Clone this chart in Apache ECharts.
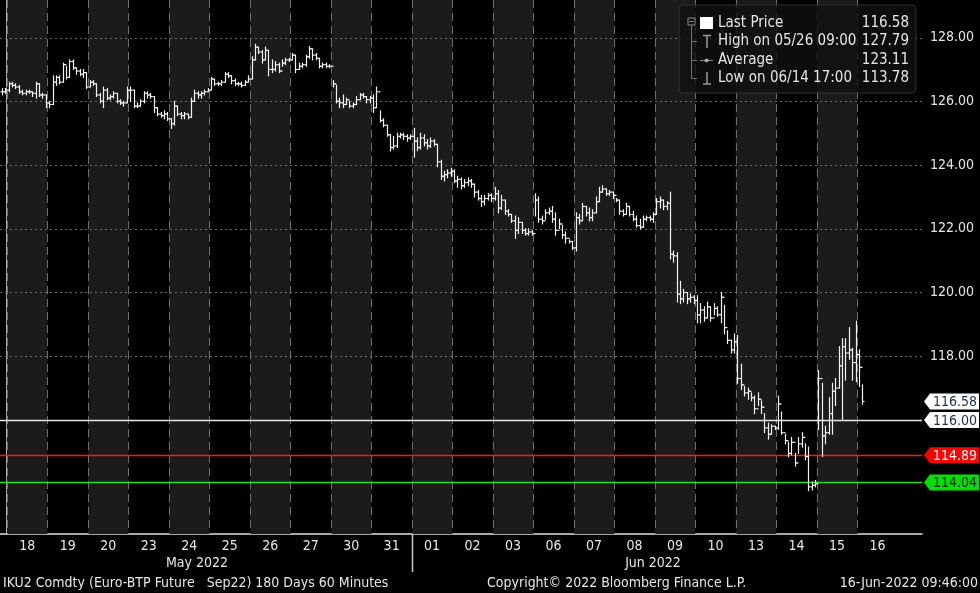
<!DOCTYPE html>
<html>
<head>
<meta charset="utf-8">
<script src="https://cdn.jsdelivr.net/npm/echarts@6/dist/echarts.min.js"></script>
<style>
  html, body { margin: 0; padding: 0; background: #000; }
  #chart { width: 980px; height: 593px; }
</style>
</head>
<body>
<div id="chart"></div>
<script>
// trading days shown on the axis (May 18 .. Jun 16)
const dayLabels = ["18", "19", "20", "23", "24", "25", "26", "27", "30", "31",
  "01", "02", "03", "06", "07", "08", "09", "10", "13", "14", "15", "16"];

// hourly bars: 2 bars of May 17, 12 bars per day, 2 bars of Jun 16
const closes = [
  126.3, 126.35,
  126.55, 126.5, 126.45, 126.3, 126.25, 126.3, 126.3, 126.25, 126.55, 126.2, 126.2, 125.95,
  125.9, 126.6, 126.75, 126.6, 127.15, 126.75, 127.25, 127.05, 126.95, 126.85, 126.9, 126.45,
  126.6, 126.55, 126.2, 126.0, 126.35, 126.1, 126.15, 126.25, 126.0, 125.95, 125.95, 126.35,
  126.35, 125.85, 125.85, 126.0, 126.25, 126.2, 126.15, 125.8, 125.6, 125.55, 125.6, 125.45,
  125.3, 125.85, 125.6, 125.55, 125.6, 125.5, 126.0, 126.25, 126.2, 126.25, 126.3, 126.35,
  126.7, 126.55, 126.55, 126.6, 126.85, 126.8, 126.65, 126.55, 126.55, 126.5, 126.6, 126.7,
  127.3, 127.7, 127.55, 127.3, 127.6, 127.0, 127.0, 127.15, 126.95, 127.2, 127.3, 127.3,
  127.45, 127.0, 127.1, 127.15, 127.4, 127.65, 127.45, 127.35, 127.1, 127.15, 127.1, 127.1,
  126.55, 126.0, 125.95, 125.9, 126.05, 125.85, 125.9, 126.05, 126.2, 126.15, 126.05, 126.1,
  125.8, 126.3, 125.4, 125.25, 124.95, 124.55, 124.6, 124.9, 124.95, 124.9, 124.85, 124.9,
  124.75, 124.55, 124.85, 124.7, 124.6, 124.75, 124.65, 124.1, 123.65, 123.7, 123.75, 123.8,
  123.5, 123.55, 123.35, 123.45, 123.5, 123.4, 123.15, 122.95, 122.85, 122.95, 123.05, 122.95,
  123.1, 122.65, 122.9, 122.55, 122.45, 122.25, 121.95, 122.2, 121.95, 121.85, 121.9, 121.85,
  122.9, 122.3, 122.25, 122.5, 122.55, 122.3, 121.95, 122.15, 121.8, 121.7, 121.6, 121.4,
  122.35, 122.25, 122.7, 122.5, 122.35, 122.5, 122.85, 123.15, 123.25, 123.1, 123.15, 123.05,
  122.9, 122.55, 122.45, 122.7, 122.45, 122.3, 122.1, 122.05, 122.3, 122.35, 122.3, 122.45,
  122.85, 122.9, 122.7, 122.8, 121.2, 121.15, 119.95, 119.8, 120.0, 119.8, 119.85, 119.75,
  119.3, 119.45, 119.2, 119.55, 119.2, 119.5, 119.3, 119.85, 118.9, 118.5, 118.2, 118.45,
  117.3, 117.1, 116.85, 116.9, 116.7, 116.35, 116.65, 116.4, 115.75, 115.55, 115.8, 115.75,
  116.5, 115.6, 115.35, 114.95, 115.3, 114.65, 115.25, 115.45, 114.85, 113.9, 113.95, 114.0,
  117.3, 115.5, 115.6, 116.2, 116.9, 117.0, 117.7, 118.3, 118.1, 118.2, 117.8, 118.05,
  117.65, 116.58
];
const highs = [
  126.4, 126.4,
  126.6, 126.6, 126.55, 126.5, 126.35, 126.35, 126.35, 126.3, 126.6, 126.55, 126.25, 126.2,
  126.0, 126.8, 126.8, 126.8, 127.2, 127.1, 127.3, 127.3, 127.05, 127.0, 127.0, 126.9,
  126.65, 126.65, 126.55, 126.25, 126.45, 126.4, 126.2, 126.3, 126.25, 126.05, 126.0, 126.45,
  126.45, 126.35, 125.95, 126.05, 126.3, 126.3, 126.25, 126.15, 125.8, 125.65, 125.7, 125.65,
  125.45, 126.0, 125.85, 125.65, 125.65, 125.6, 126.1, 126.35, 126.3, 126.3, 126.35, 126.4,
  126.75, 126.7, 126.6, 126.65, 126.9, 126.9, 126.8, 126.7, 126.6, 126.6, 126.65, 126.8,
  127.4, 127.79, 127.7, 127.6, 127.7, 127.6, 127.3, 127.25, 127.2, 127.3, 127.35, 127.35,
  127.5, 127.45, 127.2, 127.2, 127.45, 127.72, 127.65, 127.5, 127.35, 127.2, 127.2, 127.15,
  126.65, 126.5, 126.1, 126.2, 126.1, 126.0, 125.95, 126.15, 126.25, 126.25, 126.15, 126.15,
  126.2, 126.45, 125.7, 125.45, 125.25, 124.95, 124.9, 125.0, 125.0, 125.0, 124.95, 124.95,
  125.15, 124.85, 125.0, 124.95, 124.8, 124.85, 124.8, 124.65, 124.15, 123.8, 123.85, 123.9,
  123.85, 123.65, 123.6, 123.55, 123.6, 123.55, 123.4, 123.2, 123.05, 123.05, 123.1, 123.1,
  123.3, 123.2, 123.05, 122.9, 122.6, 122.45, 122.4, 122.35, 122.2, 122.0, 122.0, 121.95,
  123.1, 123.0, 122.4, 122.6, 122.65, 122.7, 122.5, 122.3, 122.1, 121.9, 121.65, 121.6,
  122.5, 122.45, 122.8, 122.7, 122.65, 122.6, 123.0, 123.3, 123.35, 123.25, 123.2, 123.15,
  122.95, 122.9, 122.6, 122.8, 122.7, 122.55, 122.4, 122.3, 122.4, 122.4, 122.4, 122.5,
  122.95, 123.0, 122.9, 122.85, 123.15, 121.3, 121.25, 120.35, 120.1, 120.0, 119.95, 119.9,
  119.9, 119.65, 119.55, 119.7, 119.55, 119.65, 119.55, 120.0, 119.6, 118.8, 118.5, 118.7,
  118.65, 117.75, 117.05, 117.0, 116.85, 116.75, 116.85, 116.6, 116.2, 115.9, 115.85, 115.8,
  116.75, 116.25, 115.55, 115.3, 115.45, 114.95, 115.45, 115.6, 115.25, 115.15, 114.05, 114.1,
  117.55, 117.15, 115.8, 116.7, 117.15, 117.3, 118.3, 118.55, 118.55, 118.9, 118.25, 119.1,
  118.2, 117.1
];
const lows = [
  126.2, 126.25,
  126.3, 126.45, 126.4, 126.25, 126.2, 126.2, 126.25, 126.15, 126.1, 126.15, 126.1, 125.8,
  125.8, 125.9, 126.5, 126.55, 126.6, 126.7, 126.75, 127.0, 126.85, 126.8, 126.75, 126.4,
  126.45, 126.5, 126.15, 125.95, 125.8, 126.05, 126.05, 126.1, 125.95, 125.9, 125.85, 125.95,
  126.0, 125.8, 125.8, 125.85, 125.95, 126.1, 126.1, 125.65, 125.55, 125.5, 125.45, 125.4,
  125.15, 125.25, 125.55, 125.45, 125.45, 125.45, 125.5, 126.0, 126.1, 126.1, 126.2, 126.3,
  126.35, 126.5, 126.5, 126.5, 126.6, 126.75, 126.55, 126.5, 126.5, 126.45, 126.5, 126.6,
  126.7, 127.3, 127.5, 127.2, 127.3, 126.8, 126.9, 126.95, 126.9, 127.1, 127.15, 127.25,
  127.3, 126.9, 127.0, 127.05, 127.1, 127.35, 127.3, 127.3, 127.05, 127.05, 127.05, 127.05,
  126.45, 125.95, 125.8, 125.8, 125.9, 125.8, 125.8, 125.9, 126.05, 126.1, 125.95, 125.95,
  125.65, 125.8, 125.35, 125.2, 124.9, 124.45, 124.5, 124.55, 124.85, 124.8, 124.75, 124.8,
  124.25, 124.45, 124.5, 124.6, 124.5, 124.55, 124.6, 123.95, 123.55, 123.5, 123.6, 123.65,
  123.45, 123.3, 123.25, 123.3, 123.35, 123.3, 123.0, 122.9, 122.7, 122.75, 122.9, 122.85,
  122.9, 122.5, 122.6, 122.45, 122.4, 122.2, 121.7, 121.85, 121.85, 121.8, 121.8, 121.8,
  122.4, 122.2, 122.15, 122.3, 122.45, 122.2, 121.8, 122.0, 121.7, 121.55, 121.55, 121.35,
  121.3, 122.15, 122.25, 122.4, 122.25, 122.25, 122.5, 122.85, 123.15, 123.05, 123.05, 122.95,
  122.85, 122.45, 122.4, 122.45, 122.4, 122.25, 122.05, 122.0, 122.05, 122.25, 122.25, 122.2,
  122.45, 122.65, 122.6, 122.6, 121.05, 120.95, 119.7, 119.65, 119.7, 119.65, 119.7, 119.65,
  119.05, 119.05, 119.1, 119.2, 119.1, 119.3, 119.25, 119.05, 118.7, 118.4, 118.1, 118.1,
  117.15, 116.95, 116.75, 116.65, 116.6, 116.2, 116.45, 116.2, 115.6, 115.4, 115.55, 115.7,
  115.7, 115.55, 115.25, 114.85, 114.9, 114.55, 114.95, 115.15, 114.75, 113.78, 113.8, 113.9,
  115.7, 114.85, 115.25, 115.55, 115.55, 116.45, 117.0, 116.0, 117.25, 117.9, 117.25, 117.2,
  117.05, 116.5
];

const levelValues = [116.00, 114.89, 114.04];
const levelColors = ["#e8e8e8", "#ff1a1a", "#1fe01f"];
const tagValues = [116.58, 116.00, 114.89, 114.04];
const tagFills = ["#ffffff", "#ffffff", "#ff0000", "#00e000"];
const tagTextColors = ["#1c2d50", "#1c2d50", "#ffffff", "#0a1a0a"];
const yLabelValues = [118, 120, 122, 124, 126, 128];
const yTickValues = [113, 114, 115, 116, 117, 118, 119, 120, 121, 122, 123, 124, 125, 126, 127, 128, 129];
const gridValues = [118, 120, 122, 124, 126, 128];

const FONT = "'DejaVu Sans Condensed', 'Liberation Sans', sans-serif";
const TXT = "#e6e6e6";

// bar i sits in hourly slot (i + 10) counted from May 17 08:00
const barData = closes.map((c, i) => {
  const slot = i + 10;
  const x = Math.floor(slot / 12) - 1 + ((slot % 12) + 0.5) / 12;
  const open = i === 0 ? c : closes[i - 1];
  return [x, open, highs[i], lows[i], c];
});

const shadedDays = dayLabels.map((d, i) => i).filter((i) => i % 2 === 0);
const dayBounds = dayLabels.map((d, i) => i);

// legend box drawn on top of everything
const legendText = (txt, x, y, align) => ({
  type: "text", x, y,
  style: { text: txt, fill: TXT, font: "15px " + FONT, verticalAlign: "middle", align: align || "left" },
});
const legendParts = [
  {
    type: "rect",
    shape: { x: 679, y: 5, width: 237, height: 88, r: 4 },
    style: { fill: "rgba(16,16,16,0.8)", stroke: "#303030", lineWidth: 1 },
  },
  { type: "rect", shape: { x: 688, y: 18, width: 7, height: 7 }, style: { fill: "none", stroke: "#8a8a8a" } },
  { type: "line", shape: { x1: 689.5, y1: 21.5, x2: 693.5, y2: 21.5 }, style: { stroke: "#8a8a8a" } },
  { type: "line", shape: { x1: 691.5, y1: 25, x2: 691.5, y2: 78.5 }, style: { stroke: "#707070" } },
  { type: "line", shape: { x1: 691.5, y1: 41.5, x2: 697, y2: 41.5 }, style: { stroke: "#707070" } },
  { type: "line", shape: { x1: 691.5, y1: 60.5, x2: 697, y2: 60.5 }, style: { stroke: "#707070" } },
  { type: "line", shape: { x1: 691.5, y1: 78.5, x2: 697, y2: 78.5 }, style: { stroke: "#707070" } },
  { type: "rect", shape: { x: 700, y: 17, width: 13, height: 12 }, style: { fill: "#ffffff" } },
  { type: "line", shape: { x1: 703, y1: 35.5, x2: 711, y2: 35.5 }, style: { stroke: "#9a9a9a", lineWidth: 1.5 } },
  { type: "line", shape: { x1: 707, y1: 35.5, x2: 707, y2: 48 }, style: { stroke: "#9a9a9a", lineWidth: 1.5 } },
  { type: "line", shape: { x1: 700, y1: 60.5, x2: 713, y2: 60.5 }, style: { stroke: "#8a8a8a" } },
  { type: "circle", shape: { cx: 706.5, cy: 60.5, r: 2 }, style: { fill: "#a8a8a8" } },
  { type: "line", shape: { x1: 707, y1: 72, x2: 707, y2: 84 }, style: { stroke: "#9a9a9a", lineWidth: 1.5 } },
  { type: "line", shape: { x1: 703, y1: 84, x2: 711, y2: 84 }, style: { stroke: "#9a9a9a", lineWidth: 1.5 } },
  legendText("Last Price", 718, 23),
  legendText("High on 05/26 09:00", 718, 41.5),
  legendText("Average", 718, 60),
  legendText("Low on 06/14 17:00", 718, 78),
  legendText("116.58", 909, 23, "right"),
  legendText("127.79", 909, 41.5, "right"),
  legendText("123.11", 909, 60, "right"),
  legendText("113.78", 909, 78, "right"),
].map((el) => Object.assign(el, { z: 100 }));

const myChart = echarts.init(document.getElementById("chart"));

const option = {
  backgroundColor: "#000",
  animation: false,
  grid: { left: 0, right: 58, top: 0, bottom: 59 },
  xAxis: {
    type: "value",
    min: -0.173,
    max: 22.6,
    axisLine: { show: true, onZero: false, lineStyle: { color: "#e0e0e0", width: 1.5 } },
    axisTick: { show: false },
    splitLine: { show: false },
    axisLabel: {
      customValues: dayLabels.map((d, i) => i + 0.5),
      formatter: (v) => dayLabels[Math.floor(v)],
      color: TXT,
      fontFamily: FONT,
      fontSize: 14,
      margin: 5,
    },
  },
  yAxis: {
    type: "value",
    position: "right",
    min: 112.42,
    max: 129.18,
    axisLine: { show: true, lineStyle: { color: "#e0e0e0", width: 1.5 } },
    axisTick: { show: true, customValues: yTickValues, length: 5, lineStyle: { color: "#e0e0e0" } },
    splitLine: { show: false },
    axisLabel: {
      customValues: yLabelValues,
      formatter: (v) => v.toFixed(2),
      color: TXT,
      fontFamily: FONT,
      fontSize: 14,
      margin: 8,
    },
  },
  series: [
    {
      // alternating day shading
      type: "custom",
      z: 1,
      silent: true,
      data: shadedDays.map((d) => [d, 120]),
      renderItem: (params, api) => {
        const cs = params.coordSys;
        const x0 = api.coord([api.value(0), 120])[0];
        const x1 = api.coord([api.value(0) + 1, 120])[0];
        return {
          type: "rect",
          shape: { x: x0, y: cs.y, width: x1 - x0, height: cs.height },
          style: { fill: "#1b1b1b" },
        };
      },
    },
    {
      // day separators
      type: "custom",
      z: 2,
      silent: true,
      data: dayBounds.map((d) => [d, 120]),
      renderItem: (params, api) => {
        const cs = params.coordSys;
        const x = Math.round(api.coord([api.value(0), 120])[0]) + 0.5;
        const children = [
          {
            type: "line",
            shape: { x1: x, y1: cs.y, x2: x, y2: cs.y + cs.height },
            style: { stroke: "#6e6e6e", lineWidth: 1, lineDash: [8, 5] },
          },
        ];
        if (api.value(0) === 10) {
          // month divider under the axis
          children.push({
            type: "line",
            shape: { x1: x, y1: cs.y + cs.height, x2: x, y2: cs.y + cs.height + 38 },
            style: { stroke: "#c8c8c8", lineWidth: 1.5 },
          });
        }
        return { type: "group", children };
      },
    },
    {
      // horizontal dotted grid
      type: "custom",
      z: 2,
      silent: true,
      data: gridValues.map((v) => [0, v]),
      renderItem: (params, api) => {
        const cs = params.coordSys;
        const y = Math.round(api.coord([0, api.value(1)])[1]) + 0.5;
        return {
          type: "line",
          shape: { x1: cs.x, y1: y, x2: cs.x + cs.width, y2: y },
          style: { stroke: "#6a6a6a", lineWidth: 1, lineDash: [2, 3] },
        };
      },
    },
    {
      // level lines
      type: "custom",
      z: 3,
      silent: true,
      data: levelValues.map((v, i) => [0, v, i]),
      renderItem: (params, api) => {
        const cs = params.coordSys;
        const y = Math.round(api.coord([0, api.value(1)])[1]) + 0.5;
        const i = api.value(2);
        return {
          type: "line",
          shape: { x1: cs.x, y1: y, x2: cs.x + cs.width, y2: y },
          style: { stroke: levelColors[i], lineWidth: 1.5 },
        };
      },
    },
    {
      // OHLC bars
      type: "custom",
      z: 5,
      silent: true,
      data: barData,
      encode: { x: 0, y: [1, 2, 3, 4] },
      renderItem: (params, api) => {
        const x = Math.round(api.coord([api.value(0), api.value(1)])[0]) + 0.5;
        const yo = api.coord([0, api.value(1)])[1];
        const yh = api.coord([0, api.value(2)])[1];
        const yl = api.coord([0, api.value(3)])[1];
        const yc = api.coord([0, api.value(4)])[1];
        const st = { stroke: "#f2f2f2", lineWidth: 1.2 };
        return {
          type: "group",
          children: [
            { type: "line", shape: { x1: x, y1: yh - 0.5, x2: x, y2: yl + 0.5 }, style: st },
            { type: "line", shape: { x1: x - 2, y1: yo, x2: x, y2: yo }, style: st },
            { type: "line", shape: { x1: x, y1: yc, x2: x + 2, y2: yc }, style: st },
          ],
        };
      },
    },
    {
      // price tags on the right axis
      type: "custom",
      z: 8,
      silent: true,
      data: tagValues.map((v, i) => [0, v, i]),
      renderItem: (params, api) => {
        const cs = params.coordSys;
        const yc = api.coord([0, api.value(1)])[1];
        const i = api.value(2);
        const x0 = cs.x + cs.width + 2;
        const x1 = 979;
        return {
          type: "group",
          children: [
            {
              type: "polygon",
              shape: {
                points: [[x0, yc], [x0 + 6, yc - 8], [x1, yc - 8], [x1, yc + 8], [x0 + 6, yc + 8]],
              },
              style: { fill: tagFills[i] },
            },
            {
              type: "text",
              x: x0 + 9,
              y: yc + 1,
              style: {
                text: api.value(1).toFixed(2),
                fill: tagTextColors[i],
                font: "14px " + FONT,
                verticalAlign: "middle",
                align: "left",
              },
            },
          ],
        };
      },
    },
  ],
  graphic: [
    { type: "group", z: 100, children: legendParts },
    // month labels
    { type: "text", x: 197, y: 563, style: { text: "May 2022", fill: TXT, font: "14px " + FONT, align: "center", verticalAlign: "middle" } },
    { type: "text", x: 653, y: 563, style: { text: "Jun 2022", fill: TXT, font: "14px " + FONT, align: "center", verticalAlign: "middle" } },
    // footer
    { type: "text", x: 3, y: 583, style: { text: "IKU2 Comdty (Euro-BTP Future   Sep22) 180 Days 60 Minutes", fill: TXT, font: "14px " + FONT, verticalAlign: "middle" } },
    { type: "text", x: 487, y: 583, style: { text: "Copyright© 2022 Bloomberg Finance L.P.", fill: TXT, font: "14px " + FONT, verticalAlign: "middle" } },
    { type: "text", x: 978, y: 583, style: { text: "16-Jun-2022 09:46:00", fill: TXT, font: "14px " + FONT, verticalAlign: "middle", align: "right" } },
  ],
};

myChart.setOption(option);
window.addEventListener("resize", myChart.resize);
</script>
</body>
</html>
